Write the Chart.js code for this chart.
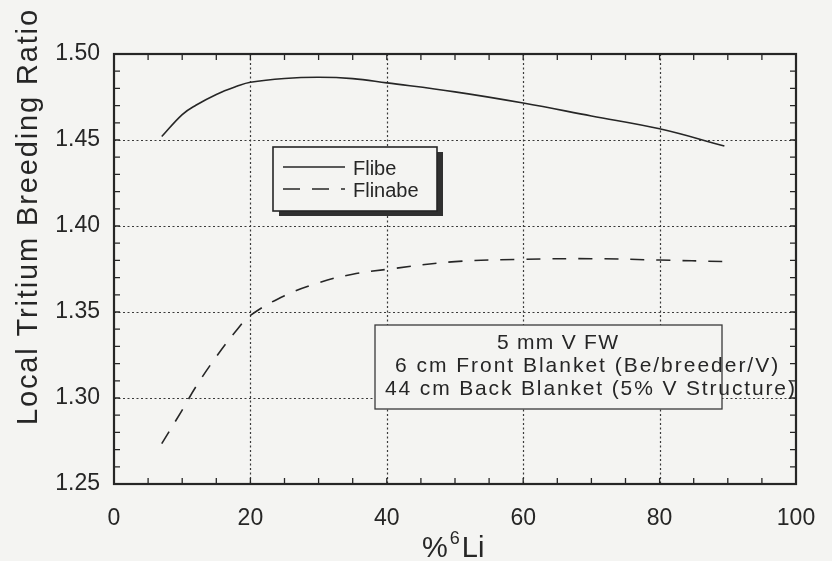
<!DOCTYPE html>
<html>
<head>
<meta charset="utf-8">
<style>
  html, body { margin: 0; padding: 0; background: #f4f4f2; }
  #wrap { width: 832px; height: 561px; }
</style>
<script src="https://cdn.jsdelivr.net/npm/chart.js@4.4.1/dist/chart.umd.min.js"></script>
</head>
<body>
<div id="wrap"><canvas id="tbr" width="832" height="561"></canvas></div>
<script>
/* ── Data ── */
const liPct      = [7, 10, 12, 15, 18, 20, 25, 30, 35, 40, 50, 60, 70, 80, 89.5];
const flibeTBR   = [1.452, 1.4648, 1.4702, 1.4765, 1.4812, 1.4836, 1.4858, 1.4865, 1.4857, 1.4832, 1.478, 1.4715, 1.464, 1.4565, 1.4465];
const flinabeTBR = [1.2735, 1.293, 1.3065, 1.324, 1.3395, 1.348, 1.3595, 1.367, 1.372, 1.3748, 1.3793, 1.3806, 1.381, 1.3802, 1.3793];
const xTicks     = [0, 20, 40, 60, 80, 100];
const yTicks     = [1.25, 1.30, 1.35, 1.40, 1.45, 1.50];
const seriesNames = ['Flibe', 'Flinabe'];
const noteLines  = ['5 mm V FW', '6 cm Front Blanket (Be/breeder/V)', '44 cm Back Blanket (5% V Structure)'];

const INK  = '#262626';
const BG   = '#f4f4f2';
const FONT = '"Liberation Sans", Arial, Helvetica, sans-serif';

/* stretch a line of text to a given width with letter spacing */
function fitText(ctx, text, x, y, width) {
  ctx.letterSpacing = '0px';
  const natural = ctx.measureText(text).width;
  const s = (width - natural) / Math.max(1, text.length - 1);
  ctx.letterSpacing = s.toFixed(2) + 'px';
  ctx.fillText(text, x, y);
  ctx.letterSpacing = '0px';
}

/* ── Frame, grid, ticks, boxes and titles ── */
const framePlugin = {
  id: 'frame',
  beforeDraw(chart) {
    const { ctx } = chart;
    ctx.save();
    ctx.fillStyle = BG;
    ctx.fillRect(0, 0, chart.width, chart.height);
    ctx.restore();
  },
  beforeDatasetsDraw(chart) {
    const { ctx, chartArea: a, scales: { x, y } } = chart;
    ctx.save();
    ctx.strokeStyle = '#3a3a3a';
    ctx.lineWidth = 1.2;
    ctx.setLineDash([2, 2.5]);
    x.ticks.forEach(t => {
      if (t.value <= x.min || t.value >= x.max) return;
      const px = Math.round(x.getPixelForValue(t.value)) + 0.5;
      ctx.beginPath(); ctx.moveTo(px, a.top); ctx.lineTo(px, a.bottom); ctx.stroke();
    });
    y.ticks.forEach(t => {
      if (t.value <= y.min || t.value >= y.max) return;
      const py = Math.round(y.getPixelForValue(t.value)) + 0.5;
      ctx.beginPath(); ctx.moveTo(a.left, py); ctx.lineTo(a.right, py); ctx.stroke();
    });
    ctx.restore();
  },
  afterDatasetsDraw(chart) {
    const { ctx, chartArea: a, scales: { x, y } } = chart;
    ctx.save();

    // inward minor ticks on all four sides
    ctx.strokeStyle = INK;
    ctx.lineWidth = 1.3;
    const len = 6;
    for (let v = 5; v < 100; v += 5) {
      const px = x.getPixelForValue(v);
      ctx.beginPath();
      ctx.moveTo(px, a.bottom); ctx.lineTo(px, a.bottom - len);
      ctx.moveTo(px, a.top);    ctx.lineTo(px, a.top + len);
      ctx.stroke();
    }
    for (let k = 1; k < 25; k++) {
      const py = y.getPixelForValue(1.25 + k * 0.01);
      ctx.beginPath();
      ctx.moveTo(a.left, py);  ctx.lineTo(a.left + len, py);
      ctx.moveTo(a.right, py); ctx.lineTo(a.right - len, py);
      ctx.stroke();
    }

    // plot border
    ctx.lineWidth = 2.2;
    ctx.strokeRect(a.left, a.top, a.right - a.left, a.bottom - a.top);

    // legend box with drop shadow
    ctx.fillStyle = '#303030';
    ctx.fillRect(279, 152, 164, 64);
    ctx.fillStyle = BG;
    ctx.fillRect(273, 147, 164, 64);
    ctx.lineWidth = 1.6;
    ctx.strokeRect(273, 147, 164, 64);

    ctx.lineWidth = 1.6;
    ctx.beginPath(); ctx.moveTo(283, 167); ctx.lineTo(345, 167); ctx.stroke();
    ctx.setLineDash([17, 12]);
    ctx.beginPath(); ctx.moveTo(283, 189); ctx.lineTo(345, 189); ctx.stroke();
    ctx.setLineDash([]);

    ctx.fillStyle = INK;
    ctx.font = '20px ' + FONT;
    ctx.textAlign = 'left';
    ctx.textBaseline = 'alphabetic';
    ctx.fillText(seriesNames[0], 353, 175);
    ctx.fillText(seriesNames[1], 353, 197);

    // note box (text runs past its right edge, as in the original)
    ctx.fillStyle = BG;
    ctx.fillRect(375, 325, 347, 84);
    ctx.lineWidth = 1.3;
    ctx.strokeStyle = '#3a3a3a';
    ctx.strokeRect(375, 325, 347, 84);
    ctx.fillStyle = INK;
    ctx.font = '21px ' + FONT;
    fitText(ctx, noteLines[0], 497, 349, 121);
    fitText(ctx, noteLines[1], 395, 372, 383);
    fitText(ctx, noteLines[2], 385, 395, 410);

    // y title
    ctx.save();
    ctx.translate(37, 425);
    ctx.rotate(-Math.PI / 2);
    ctx.font = '29px ' + FONT;
    fitText(ctx, 'Local Tritium Breeding Ratio', 0, 0, 415);
    ctx.restore();

    // x title: %⁶Li
    ctx.font = '29px ' + FONT;
    ctx.fillText('%', 422, 557);
    const wPct = ctx.measureText('%').width;
    ctx.font = '18px ' + FONT;
    ctx.fillText('6', 422 + wPct + 2, 544);
    const w6 = ctx.measureText('6').width;
    ctx.font = '29px ' + FONT;
    ctx.fillText('Li', 422 + wPct + w6 + 4, 557);

    ctx.restore();
  }
};

/* ── Chart ── */
new Chart(document.getElementById('tbr'), {
  type: 'line',
  data: {
    datasets: [
      {
        label: seriesNames[0],
        data: liPct.map((v, i) => ({ x: v, y: flibeTBR[i] })),
        borderColor: INK, borderWidth: 1.6,
        pointRadius: 0, tension: 0.4, fill: false,
      },
      {
        label: seriesNames[1],
        data: liPct.map((v, i) => ({ x: v, y: flinabeTBR[i] })),
        borderColor: INK, borderWidth: 1.6, borderDash: [14, 12],
        pointRadius: 0, tension: 0.4, fill: false,
      },
    ],
  },
  options: {
    responsive: false, animation: false, devicePixelRatio: 1,
    layout: { padding: { top: 54, right: 36, left: 0, bottom: 0 } },
    plugins: { legend: { display: false }, tooltip: { enabled: false } },
    scales: {
      x: {
        type: 'linear', min: 0, max: 100,
        afterBuildTicks: s => { s.ticks = xTicks.map(v => ({ value: v })); },
        afterFit: s => { s.height = 77; },
        grid: { display: false }, border: { display: false },
        ticks: { color: INK, font: { family: FONT, size: 23 }, padding: 13, maxRotation: 0 },
      },
      y: {
        type: 'linear', min: 1.25, max: 1.50,
        afterBuildTicks: s => { s.ticks = yTicks.map(v => ({ value: v })); },
        afterFit: s => { s.width = 114; },
        grid: { display: false }, border: { display: false },
        ticks: { color: INK, font: { family: FONT, size: 23 }, padding: 6, callback: v => v.toFixed(2) },
      },
    },
  },
  plugins: [framePlugin],
});
</script>
</body>
</html>
